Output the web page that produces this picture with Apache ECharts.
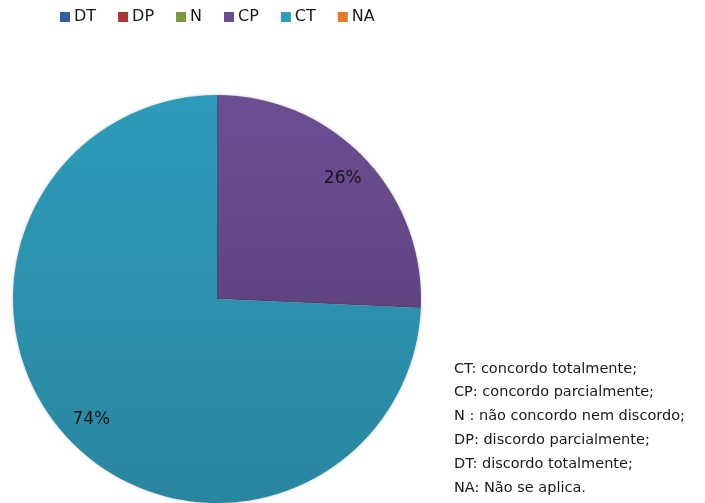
<!DOCTYPE html>
<html>
<head>
<meta charset="utf-8">
<script src="https://cdn.jsdelivr.net/npm/echarts@6/dist/echarts.min.js"></script>
<style>
  html, body { margin: 0; padding: 0; background: #fff; }
  #chart { width: 705px; height: 503px; }
</style>
</head>
<body>
<div id="chart"></div>
<script>
'use strict';

// answer categories and their share (%)
var categories = ['DT', 'DP', 'N', 'CP', 'CT', 'NA'];
var percentages = [0, 0, 0, 25.7, 74.3, 0];
// flat colours for legend, top/bottom for the slice gradient
var legendColors = ['#3061a0', '#a83433', '#7a9a3d', '#6a4d90', '#2e9bb8', '#e57a28'];
var topColors = ['#3a6cb0', '#b83a39', '#86a844', '#6c4f93', '#2c9cba', '#f08030'];
var bottomColors = ['#2a5288', '#902b2a', '#668535', '#543a72', '#2a86a0', '#c86a22'];
var noteLines = [
    'CT: concordo totalmente;',
    'CP: concordo parcialmente;',
    'N : não concordo nem discordo;',
    'DP: discordo parcialmente;',
    'DT: discordo totalmente;',
    'NA: Não se aplica.'
];

function gradient(i) {
    return new echarts.graphic.LinearGradient(0, 96, 0, 504, [
        { offset: 0, color: topColors[i] },
        { offset: 1, color: bottomColors[i] }
    ], true);
}

var pieData = [];
var labelData = [];
var legendData = [];
for (var i = 0; i < categories.length; i++) {
    pieData.push({ name: categories[i], value: percentages[i], itemStyle: { color: gradient(i) } });
    labelData.push({ name: categories[i], value: percentages[i] });
    legendData.push({ name: categories[i], itemStyle: { color: legendColors[i] } });
}

var chart = echarts.init(document.getElementById('chart'));
var option = {
    backgroundColor: '#ffffff',
    animation: false,
    legend: {
        data: legendData,
        left: 55,
        top: 4,
        icon: 'rect',
        itemWidth: 10,
        itemHeight: 10,
        itemGap: 22,
        textStyle: { fontFamily: 'DejaVu Sans', fontSize: 16, color: '#1a1a1a', padding: [0, 0, 0, -1] }
    },
    series: [
        {
            type: 'pie',
            center: [217, 299],
            radius: [0, 204],
            startAngle: 90,
            clockwise: true,
            data: pieData,
            label: { show: false },
            labelLine: { show: false },
            itemStyle: { shadowBlur: 3, shadowColor: 'rgba(0,0,0,0.25)' },
            emphasis: { disabled: true }
        },
        {
            // transparent ring, only used to place the % labels near the rim
            type: 'pie',
            center: [217, 299],
            radius: [138, 204],
            startAngle: 90,
            clockwise: true,
            silent: true,
            data: labelData,
            itemStyle: { color: 'rgba(0,0,0,0)' },
            label: {
                show: true,
                position: 'inside',
                fontFamily: 'DejaVu Sans',
                fontSize: 17,
                color: '#151515',
                formatter: function (p) {
                    return p.value ? Math.round(p.value) + '%' : '';
                }
            },
            labelLine: { show: false },
            emphasis: { disabled: true }
        }
    ],
    graphic: [
        {
            type: 'text',
            left: 454,
            top: 357,
            style: {
                text: noteLines.join('\n'),
                font: '14.5px "DejaVu Sans"',
                lineHeight: 23.8,
                fill: '#1a1a1a'
            }
        }
    ]
};
chart.setOption(option);
</script>
</body>
</html>
